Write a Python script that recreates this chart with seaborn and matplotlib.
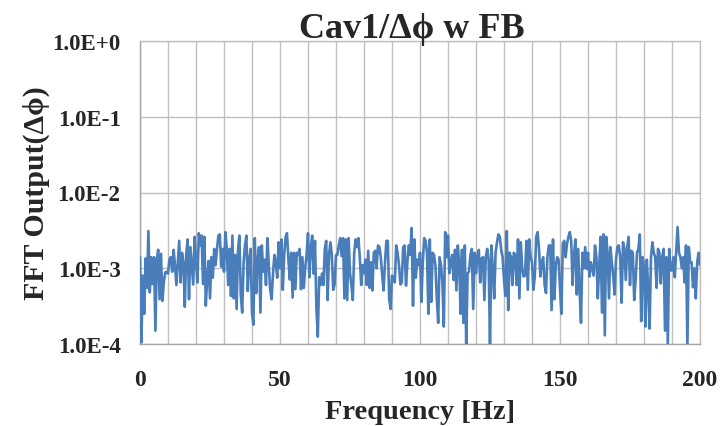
import numpy as np
import pandas as pd
import matplotlib
matplotlib.use("Agg")
import matplotlib.pyplot as plt
import seaborn as sns
from matplotlib.ticker import FixedLocator

# ---- data (0.5 Hz resolution) ----
freq_start, freq_stop, freq_step = 0.0, 200.0, 0.5

amp_0_10 = [1.4e-3, 1.05e-4, 8e-4, 2.5e-4, 1.35e-3, 5.5e-4, 3.1e-3, 4.8e-4, 1.4e-3, 6.2e-4,
            1.4e-3, 1.5e-4, 1.3e-3, 1.75e-3, 3.9e-4, 1.55e-3, 3.7e-4, 6.5e-4, 8.8e-4, 9e-4, 8.5e-4]
amp_10_50 = [1.3e-3, 1.4e-3, 9e-4, 1.75e-3, 1.1e-3, 6e-4, 1.2e-3, 2.3e-3, 6.5e-4, 1.6e-3,
             1.2e-3, 3.1e-4, 1.5e-3, 2.4e-3, 3.9e-4, 1.9e-3, 1.1e-3, 6.1e-4, 2.6e-3, 1.2e-3,
             6.5e-4, 2.9e-3, 2.0e-3, 2.7e-3, 6.2e-4, 2.6e-3, 3.2e-4, 7.5e-4, 1.25e-3, 4.0e-4,
             1.4e-3, 7.5e-4, 1.8e-3, 1.1e-3, 1.8e-3, 2.7e-3, 2.8e-3, 1.05e-3, 1.8e-3, 9.0e-4,
             3.0e-3, 1.8e-3, 6.0e-4, 1.8e-3, 4.3e-4, 2.7e-3, 4.0e-4, 1.5e-3, 2.9e-4, 1.75e-3,
             2.7e-3, 4.4e-4, 2.6e-4, 1.2e-3, 2.0e-3, 2.7e-3, 5.0e-4, 1.3e-3, 1.8e-3, 2.6e-4,
             1.8e-4, 2.5e-3, 4.7e-4, 1.3e-3, 1.9e-3, 2.6e-4, 2.0e-3, 9.0e-4, 1.3e-3, 6.0e-4,
             2.5e-3, 1.1e-3, 5.2e-4, 3.9e-4, 8.5e-4, 1.5e-3, 1.2e-3, 7.5e-4, 2.2e-3, 1.0e-3]
amp_50_100 = [2.4e-3, 5.2e-4, 1.5e-3, 2.6e-3, 2.9e-3, 1.3e-3, 7.1e-4, 1.6e-3, 4.1e-4, 1.6e-3,
              5.3e-4, 1.6e-3, 1.5e-3, 1.8e-3, 5.3e-4, 1.4e-3, 5.5e-4, 1.0e-3, 1.5e-3, 2.9e-3,
              7.6e-4, 1.9e-3, 2.7e-3, 8.5e-4, 2.3e-3, 3.0e-4, 1.25e-4, 7.6e-4, 6.0e-4, 8.5e-4,
              6.0e-4, 1.8e-3, 2.3e-3, 3.8e-4, 1.5e-3, 2.2e-3, 1.5e-3, 5.2e-4, 6.1e-4, 1.5e-3,
              1.5e-3, 2.0e-3, 2.5e-3, 1.45e-3, 2.5e-3, 4.0e-4, 2.4e-3, 3.8e-4, 2.5e-3, 8.6e-4,
              6.0e-4, 3.8e-4, 1.6e-3, 2.4e-3, 1.9e-3, 2.5e-3, 1.4e-3, 6.0e-4, 1.1e-3, 8.6e-4,
              1.3e-3, 6.0e-4, 1.7e-3, 5.5e-4, 1.2e-3, 5.1e-4, 1.6e-3, 1.7e-3, 1.0e-3, 2.0e-3,
              1.9e-3, 1.4e-3, 8.0e-4, 5.1e-4, 1.2e-3, 2.3e-3, 2.3e-3, 3.9e-4, 2.9e-4, 8.0e-4,
              7.0e-4, 6.5e-4, 2.0e-3, 1.6e-3, 1.1e-3, 6.1e-4, 6.5e-4, 1.9e-3, 2.0e-3, 5.9e-4,
              1.2e-3, 2.0e-3, 1.5e-3, 3.4e-3, 3.2e-4, 2.4e-3, 7.5e-4, 1.3e-3, 1.1e-3, 1.6e-3]
amp_100_150 = [3.6e-4, 1.2e-3, 2.5e-3, 2.3e-3, 1.6e-3, 2.5e-4, 2.4e-3, 3.6e-4, 1.6e-3, 1.5e-3,
               1.1e-3, 4.0e-4, 1.9e-4, 1.4e-3, 1.1e-3, 6.5e-4, 1.7e-4, 3.0e-3, 1.4e-3, 2.7e-3,
               8.6e-4, 1.2e-3, 1.5e-3, 7.0e-4, 1.75e-3, 5.1e-4, 2.0e-3, 1.2e-3, 2.5e-4, 1.75e-3,
               1.9e-4, 2.0e-3, 9.5e-5, 8.6e-4, 9.0e-4, 1.5e-3, 1.8e-3, 2.9e-4, 1.6e-3, 8.6e-4,
               1.45e-3, 1.75e-3, 6.5e-4, 1.35e-3, 1.4e-3, 3.8e-4, 1.4e-3, 1.8e-3, 1.3e-3, 9.5e-5,
               2.0e-3, 1.0e-3, 4.0e-4, 1.6e-3, 2.2e-3, 2.8e-3, 2.6e-3, 1.75e-3, 1.4e-3, 7.0e-4,
               4.3e-4, 3.1e-3, 2.8e-4, 1.6e-3, 1.4e-3, 6.0e-4, 1.6e-3, 1.5e-3, 6.0e-4, 2.4e-3,
               4.0e-4, 2.2e-3, 1.0e-3, 7.8e-4, 8.0e-4, 2.3e-3, 5.2e-4, 2.4e-3, 1.4e-3, 1.2e-3,
               5.2e-4, 7.8e-4, 2.6e-3, 3.0e-3, 1.8e-3, 7.8e-4, 1.2e-3, 1.4e-3, 6.0e-4, 4.7e-4,
               1.4e-3, 2.0e-3, 2.0e-3, 2.8e-4, 2.4e-3, 3.9e-4, 1.1e-3, 1.4e-3, 1.3e-3, 5.5e-4]
amp_150_200 = [2.5e-4, 2.1e-3, 2.3e-3, 1.4e-3, 2.1e-3, 2.6e-3, 3.0e-3, 2.3e-3, 6.0e-4, 1.5e-3,
               2.4e-3, 4.5e-4, 1.8e-3, 5.2e-4, 1.9e-4, 1.6e-3, 1.0e-3, 1.9e-3, 9.8e-4, 1.6e-3,
               7.8e-4, 1.2e-3, 9.8e-4, 8.0e-4, 2.0e-3, 1.4e-3, 4.0e-4, 1.1e-3, 2.6e-3, 2.6e-4,
               2.8e-3, 1.3e-4, 2.6e-3, 1.6e-3, 4.0e-4, 1.9e-3, 1.2e-3, 8.0e-4, 4.5e-4, 1.3e-3,
               1.9e-3, 2.0e-3, 1.4e-3, 3.5e-4, 2.2e-3, 1.8e-3, 7.0e-4, 1.9e-3, 2.6e-3, 6.0e-4,
               1.7e-3, 1.6e-3, 3.8e-4, 7.0e-4, 1.6e-3, 1.8e-3, 2.8e-3, 2.0e-4, 1.4e-3, 1.0e-3,
               1.7e-4, 1.3e-3, 5.5e-4, 1.6e-4, 1.4e-3, 2.2e-3, 1.6e-3, 1.4e-3, 5.5e-4, 1.8e-3,
               1.6e-3, 6.3e-4, 1.4e-3, 1.8e-3, 1.5e-4, 1.4e-3, 9.5e-5, 1.8e-3, 9.5e-4, 9.3e-4,
               1.4e-3, 7.6e-4, 1.7e-3, 3.5e-3, 1.6e-3, 1.4e-3, 1.0e-3, 1.4e-3, 6.5e-4, 2.0e-3,
               9.5e-5, 1.9e-3, 1.2e-3, 1.2e-3, 5.6e-4, 1.0e-3, 4.0e-4, 1.2e-3, 1.6e-3, 1.1e-3]

amplitude = np.array(amp_0_10 + amp_10_50 + amp_50_100 + amp_100_150 + amp_150_200)
frequency = np.arange(freq_start, freq_stop + freq_step / 2, freq_step)

y_ticks = [1e-4, 1e-3, 1e-2, 1e-1, 1e0]
y_tick_labels = ["1.0E-4", "1.0E-3", "1.0E-2", "1.0E-1", "1.0E+0"]
x_major = [0, 50, 100, 150, 200]
x_grid = list(range(0, 201, 10))

title = "Cav1/\u0394\u03d5 w FB"
xlabel = "Frequency [Hz]"
ylabel = "FFT Output(\u0394\u03d5)"

df = pd.DataFrame({"Frequency": frequency, "FFT": amplitude})

# ---- plot ----
sns.set_theme(style="white")
plt.rcParams["font.family"] = ["Liberation Serif", "DejaVu Serif"]
plt.rcParams["font.weight"] = "bold"

fig = plt.figure(figsize=(7.2, 4.27), dpi=100)
ax = fig.add_axes([140 / 720, 1 - 345 / 427, 560 / 720, 303 / 427])

sns.lineplot(data=df, x="Frequency", y="FFT", ax=ax, color="#4A7EBB",
             linewidth=1.9, zorder=3)

ax.set_yscale("log")
ax.set_ylim(1e-4, 1e0)
ax.set_xlim(0, 200)

ax.yaxis.set_major_locator(FixedLocator(y_ticks))
ax.yaxis.set_minor_locator(FixedLocator([]))
ax.set_yticks(y_ticks)
ax.set_yticklabels(y_tick_labels)
ax.xaxis.set_major_locator(FixedLocator(x_major))
ax.xaxis.set_minor_locator(FixedLocator(x_grid))

grid_col = "#BFBFBF"
ax.grid(True, which="major", axis="y", color=grid_col, linewidth=1.0, zorder=0)
ax.grid(True, which="both", axis="x", color=grid_col, linewidth=1.0, zorder=0)

for s in ax.spines.values():
    s.set_color(grid_col)
    s.set_linewidth(1.0)
ax.spines["bottom"].set_color("#A6A6A6")
ax.spines["left"].set_color("#A6A6A6")

ax.tick_params(axis="x", which="both", direction="out", length=4, color="#A6A6A6",
               pad=14, labelsize=17)
ax.tick_params(axis="y", which="both", length=0, pad=14, labelsize=16.5)
for lab in ax.get_xticklabels() + ax.get_yticklabels():
    lab.set_fontweight("bold")

ax.set_title(title, fontsize=26, fontweight="bold", pad=3, x=(412 - 140) / 560)
ax.set_xlabel(xlabel, fontsize=20.5, fontweight="bold")
ax.set_ylabel(ylabel, fontsize=21.5, fontweight="bold")
ax.xaxis.set_label_coords(0.5, -0.18)
ax.yaxis.set_label_coords(-0.16, 0.5)

fig.savefig("out.png", dpi=100)
